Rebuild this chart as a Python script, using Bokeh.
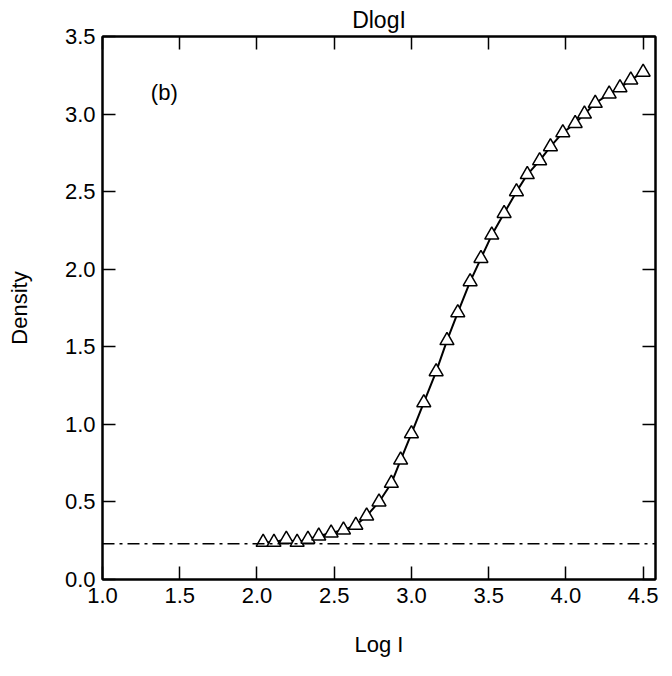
from bokeh.plotting import figure
from bokeh.models import LinearAxis, Range1d, Span, Label, FixedTicker, NumeralTickFormatter
from bokeh.embed import file_html
from bokeh.resources import INLINE

# Data
log_i = [2.04, 2.11, 2.19, 2.26, 2.33, 2.40, 2.48, 2.56, 2.64, 2.71, 2.79, 2.87,
         2.93, 3.00, 3.08, 3.16, 3.23, 3.30, 3.38, 3.45, 3.52, 3.60, 3.68, 3.75,
         3.83, 3.90, 3.98, 4.06, 4.12, 4.19, 4.28, 4.35, 4.42, 4.50]
density = [0.24, 0.24, 0.26, 0.24, 0.26, 0.28, 0.30, 0.32, 0.35, 0.41, 0.50, 0.62,
           0.77, 0.94, 1.14, 1.34, 1.54, 1.72, 1.92, 2.07, 2.22, 2.36, 2.50, 2.61,
           2.70, 2.79, 2.88, 2.94, 3.00, 3.07, 3.13, 3.17, 3.22, 3.27]
fog_level = 0.23
x_ticks = [1.0, 1.5, 2.0, 2.5, 3.0, 3.5, 4.0, 4.5]
y_ticks = [0.0, 0.5, 1.0, 1.5, 2.0, 2.5, 3.0, 3.5]

FONT = "Liberation Sans"
FS = "22px"

p = figure(width=664, height=668, output_backend="svg", toolbar_location=None,
           x_range=Range1d(1.0, 4.58), y_range=Range1d(0.0, 3.5),
           min_border_left=102, min_border_right=9, min_border_top=36,
           min_border_bottom=89)
p.title.text = "DlogI"
p.title.align = "center"
p.title.text_font = FONT
p.title.text_font_size = "23px"
p.title.text_font_style = "normal"
p.title.text_color = "black"
p.title.standoff = 8
p.background_fill_color = "white"
p.border_fill_color = "white"
p.outline_line_color = "black"
p.outline_line_width = 2
p.grid.grid_line_color = None

# extra axes (top & right) with inward ticks only
p.add_layout(LinearAxis(), "above")
p.add_layout(LinearAxis(), "right")

for ax in p.xaxis:
    ax.ticker = FixedTicker(ticks=x_ticks)
for ax in p.yaxis:
    ax.ticker = FixedTicker(ticks=y_ticks)

for ax in p.axis:
    ax.formatter = NumeralTickFormatter(format="0.0")
    ax.major_tick_in = 13
    ax.major_tick_out = 0
    ax.minor_tick_line_color = None
    ax.major_tick_line_color = "black"
    ax.major_tick_line_width = 1.5
    ax.axis_line_color = "black"
    ax.axis_line_width = 2
    ax.major_label_text_font = FONT
    ax.major_label_text_font_size = FS
    ax.major_label_text_color = "black"
    ax.axis_label_text_font = FONT
    ax.axis_label_text_font_size = FS
    ax.axis_label_text_font_style = "normal"
    ax.axis_label_text_color = "black"

p.above[0].major_label_overrides = {t: "" for t in x_ticks}
p.above[0].major_label_standoff = 0
p.right[0].major_label_overrides = {t: "" for t in y_ticks}
p.right[0].major_label_standoff = 0

p.below[0].axis_label = "Log I"
p.below[0].axis_label_standoff = 26
p.below[0].major_label_standoff = 8
p.left[0].axis_label = "Density"
p.left[0].axis_label_standoff = 30
p.left[0].major_label_standoff = 7

p.add_layout(Span(location=fog_level, dimension="width", line_color="black",
                  line_width=1.5, line_dash="12 5 3 5"))

p.line(log_i, density, line_color="black", line_width=2)
p.scatter(log_i, density, marker="triangle", size=14, fill_color="white",
          line_color="black", line_width=1.5)

p.add_layout(Label(x=1.40, y=3.14, text="(b)", text_font=FONT, text_font_size=FS,
                   text_align="center", text_baseline="middle", text_color="black"))

open("out.html", "w").write(file_html(p, INLINE))
